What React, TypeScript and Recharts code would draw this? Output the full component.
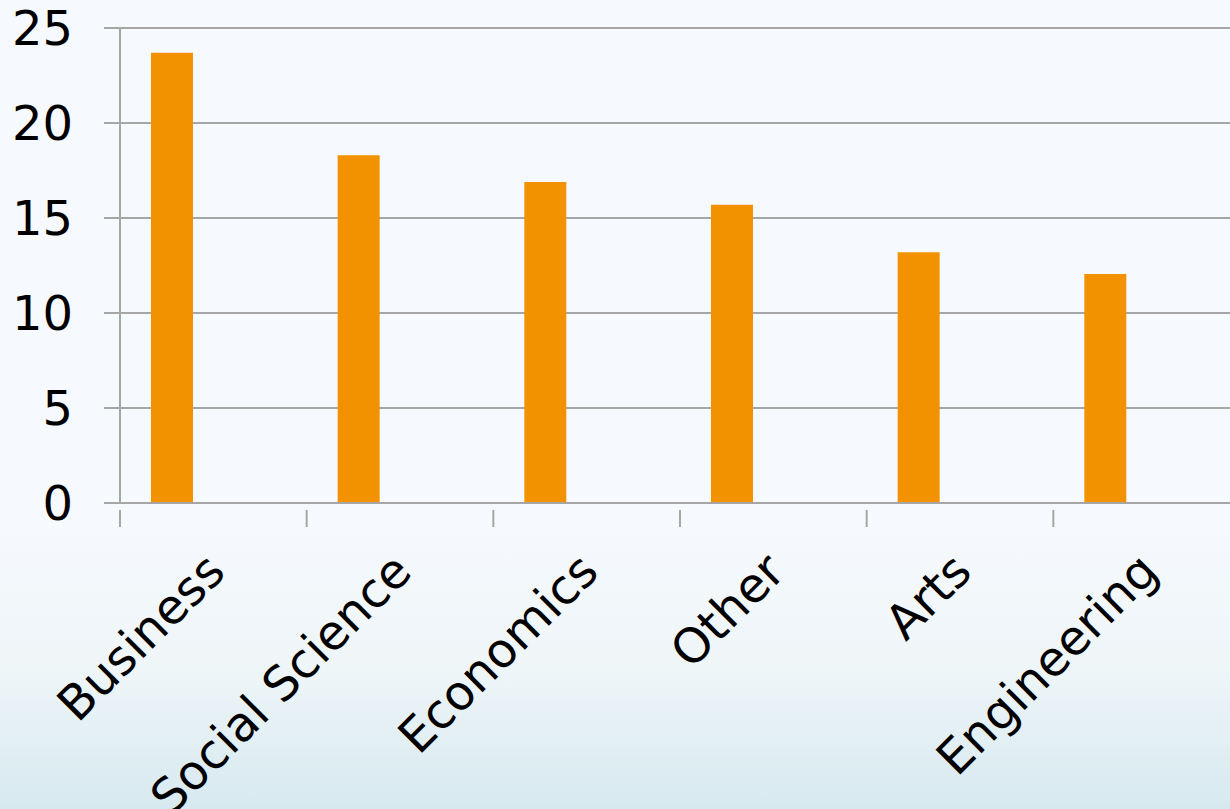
import React from "react"
import { BarChart, Bar, XAxis, YAxis, CartesianGrid } from "recharts"

const categories = ["Business", "Social Science", "Economics", "Other", "Arts", "Engineering"]
const values = [23.7, 18.3, 16.9, 15.7, 13.2, 12.05]
// empty series that keep the bar in the left third of each group, like the original
const spacerA = categories.map(() => null)
const spacerB = categories.map(() => null)
const yTicks = [0, 5, 10, 15, 20, 25]

const data = categories.map((name, i) => ({
  name,
  value: values[i],
  spacerA: spacerA[i],
  spacerB: spacerB[i],
}))

const FONT = "'DejaVu Sans', Verdana, sans-serif"
const GRID = "#a6a6a6"
const HALF_BAND = 1120 / categories.length / 2

function CategoryTick(props: any) {
  const { x, y, payload } = props
  const tx = x + 14
  const ty = y + 63
  return (
    <g>
      <line x1={x - HALF_BAND} y1={y - 1} x2={x - HALF_BAND} y2={y + 16} stroke={GRID} strokeWidth={2} />
      <text
        x={tx}
        y={ty}
        textAnchor="end"
        transform={`rotate(-45, ${tx}, ${ty})`}
        fontFamily={FONT}
        fontSize={48}
        fill="#000"
      >
        {payload.value}
      </text>
    </g>
  )
}

export default function App() {
  return (
    <div
      style={{
        position: "absolute",
        left: 0,
        top: 0,
        width: 1230,
        height: 809,
        overflow: "hidden",
        background:
          "linear-gradient(to bottom, #f6f9fd 0%, #f6f9fd 65%, #eff6f8 82%, #d7e9f0 100%)",
      }}
    >
      <BarChart
        width={1240}
        height={809}
        data={data}
        margin={{ top: 28, right: 0, bottom: 0, left: 0 }}
        barCategoryGap="16.6%"
        barGap={0}
      >
        <CartesianGrid vertical={false} stroke={GRID} strokeWidth={2} />
        <XAxis
          dataKey="name"
          height={306}
          interval={0}
          axisLine={{ stroke: GRID, strokeWidth: 2 }}
          tickLine={false}
          tick={<CategoryTick />}
        />
        <YAxis
          domain={[0, 25]}
          ticks={yTicks}
          width={120}
          axisLine={{ stroke: GRID, strokeWidth: 2 }}
          tickLine={{ stroke: GRID, strokeWidth: 2 }}
          tickSize={16}
          tickMargin={31}
          tick={{ fontFamily: FONT, fontSize: 48, fill: "#000" }}
        />
        <Bar dataKey="value" fill="#f39200" isAnimationActive={false} />
        <Bar dataKey="spacerA" fill="none" isAnimationActive={false} />
        <Bar dataKey="spacerB" fill="none" isAnimationActive={false} />
      </BarChart>
    </div>
  )
}
